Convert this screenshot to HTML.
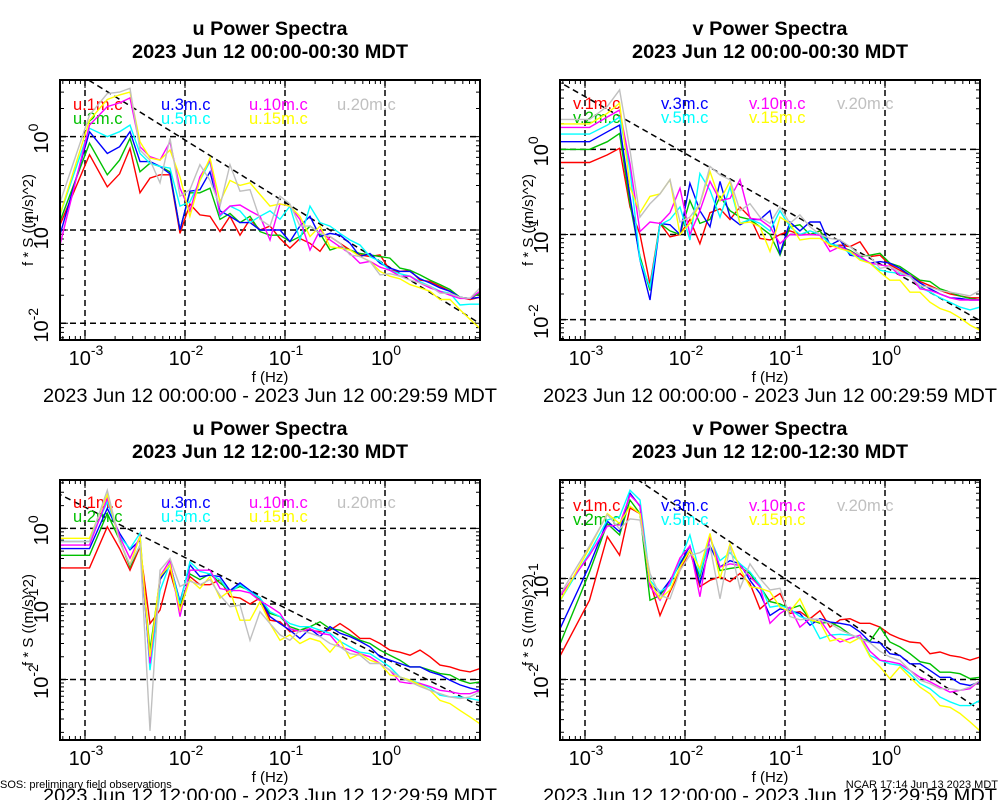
<!DOCTYPE html>
<html><head><meta charset="utf-8"><title>Power Spectra</title>
<style>
html,body{margin:0;padding:0;background:#fff;}
svg{display:block;font-family:"Liberation Sans",Arial,sans-serif;}
</style></head>
<body>
<svg id="chart" xmlns="http://www.w3.org/2000/svg" width="1000" height="800" viewBox="0 0 1000 800">
<rect x="0" y="0" width="1000" height="800" fill="#fff"/>
<text x="0" y="788" font-size="11">SOS: preliminary field observations</text>
<text x="998" y="788" font-size="11" text-anchor="end">NCAR 17:14 Jun 13 2023 MDT</text>
</svg>
<script>
// frequencies (Hz)
const freqHz = [5.56e-4,1.11e-3,1.67e-3,2.22e-3,2.82e-3,3.55e-3,4.47e-3,5.62e-3,7.08e-3,8.91e-3,0.0112,0.0141,0.0178,0.0224,0.0282,0.0355,0.0447,0.0562,0.0708,0.0891,0.112,0.141,0.178,0.224,0.282,0.355,0.447,0.562,0.708,0.891,1.12,1.41,1.78,2.24,2.82,3.55,4.47,5.62,7.08,8.91];
const seriesHeights = ["1m","2m","3m","5m","10m","15m","20m"];
const seriesColors = ["#ff0000","#00c000","#0000ff","#00ffff","#ff00ff","#ffff00","#c0c0c0"];
const xTickExps = [-3,-2,-1,0];

// top-left: u, 00:00-00:30
const tl_1m = [0.11,0.64,0.29,0.40,0.75,0.25,0.36,0.39,0.39,0.092,0.19,0.145,0.14,0.096,0.14,0.088,0.13,0.1,0.11,0.081,0.064,0.081,0.072,0.059,0.085,0.072,0.061,0.054,0.052,0.054,0.037,0.036,0.037,0.029,0.028,0.025,0.022,0.019,0.018,0.019];
const tl_2m = [0.12,0.85,0.39,0.56,0.96,0.42,0.52,0.48,0.42,0.1,0.25,0.25,0.28,0.13,0.15,0.12,0.14,0.096,0.088,0.088,0.075,0.085,0.11,0.092,0.061,0.066,0.061,0.056,0.054,0.052,0.05,0.039,0.037,0.033,0.029,0.026,0.023,0.019,0.0185,0.021];
const tl_3m = [0.085,1.13,0.66,0.78,1.13,0.54,0.54,0.48,0.40,0.1,0.26,0.27,0.42,0.16,0.14,0.12,0.12,0.1,0.1,0.1,0.075,0.11,0.14,0.085,0.092,0.088,0.072,0.052,0.056,0.044,0.039,0.036,0.036,0.030,0.027,0.024,0.022,0.019,0.0185,0.019];
const tl_5m = [0.14,1.23,1.0,1.13,1.33,0.66,0.52,0.48,0.46,0.18,0.2,0.34,0.54,0.14,0.18,0.16,0.12,0.14,0.16,0.13,0.18,0.078,0.18,0.12,0.11,0.092,0.078,0.069,0.052,0.046,0.037,0.034,0.032,0.028,0.025,0.022,0.021,0.0157,0.016,0.016];
const tl_10m = [0.066,1.33,2.1,2.3,2.6,0.78,0.61,0.56,0.88,0.28,0.16,0.37,0.56,0.145,0.18,0.185,0.16,0.14,0.078,0.19,0.18,0.13,0.061,0.1,0.078,0.066,0.056,0.044,0.046,0.04,0.037,0.032,0.032,0.027,0.024,0.022,0.02,0.0185,0.0185,0.022];
const tl_15m = [0.14,1.5,2.5,2.8,3.0,0.88,0.59,0.56,0.72,0.37,0.14,0.34,0.59,0.2,0.34,0.3,0.32,0.24,0.18,0.19,0.18,0.14,0.085,0.11,0.066,0.064,0.061,0.052,0.046,0.036,0.032,0.030,0.026,0.024,0.022,0.018,0.018,0.014,0.011,0.0088];
const tl_20m = [0.19,1.7,2.9,3.0,3.3,0.72,0.56,0.32,0.96,0.23,0.27,0.5,0.34,0.18,0.5,0.26,0.27,0.13,0.11,0.23,0.19,0.11,0.11,0.092,0.085,0.072,0.054,0.052,0.046,0.033,0.034,0.032,0.029,0.027,0.025,0.021,0.021,0.019,0.0185,0.024];

// top-right: v, 00:00-00:30
const tr_1m = [0.7,0.7,0.86,1.03,0.21,0.1,0.026,0.135,0.094,0.1,0.15,0.078,0.18,0.2,0.15,0.21,0.16,0.09,0.086,0.1,0.11,0.1,0.1,0.11,0.072,0.075,0.072,0.082,0.055,0.057,0.044,0.038,0.033,0.028,0.025,0.022,0.02,0.019,0.018,0.018];
const tr_2m = [1.0,1.0,1.23,1.54,0.23,0.055,0.022,0.135,0.11,0.1,0.25,0.135,0.15,0.28,0.19,0.16,0.15,0.123,0.1,0.057,0.123,0.13,0.1,0.11,0.078,0.072,0.065,0.055,0.057,0.06,0.046,0.042,0.035,0.029,0.028,0.023,0.021,0.019,0.0177,0.017];
const tr_3m = [1.23,1.23,1.61,1.93,0.28,0.05,0.017,0.135,0.13,0.1,0.4,0.19,0.123,0.42,0.16,0.13,0.15,0.15,0.19,0.06,0.14,0.11,0.14,0.14,0.075,0.086,0.057,0.055,0.046,0.048,0.046,0.04,0.033,0.027,0.023,0.02,0.018,0.0177,0.017,0.017];
const tr_5m = [1.51,1.51,1.93,2.4,0.57,0.05,0.024,0.13,0.15,0.21,0.086,0.52,0.33,0.16,0.36,0.135,0.15,0.135,0.11,0.19,0.123,0.1,0.11,0.1,0.078,0.072,0.06,0.052,0.046,0.038,0.036,0.035,0.032,0.024,0.021,0.018,0.016,0.014,0.013,0.014];
const tr_10m = [1.81,1.81,2.4,2.9,0.68,0.108,0.14,0.135,0.18,0.35,0.1,0.19,0.42,0.25,0.265,0.44,0.155,0.15,0.123,0.078,0.1,0.098,0.1,0.098,0.063,0.072,0.063,0.055,0.046,0.044,0.042,0.033,0.033,0.023,0.022,0.02,0.018,0.017,0.017,0.017];
const tr_15m = [1.99,1.99,2.65,3.5,0.36,0.18,0.28,0.3,0.44,0.1,0.135,0.23,0.55,0.25,0.42,0.135,0.14,0.123,0.063,0.16,0.135,0.086,0.09,0.09,0.075,0.068,0.063,0.05,0.046,0.036,0.029,0.029,0.021,0.021,0.016,0.0135,0.0123,0.0105,0.0086,0.0075];
const tr_20m = [2.25,2.25,3.2,5.0,0.98,0.16,0.23,0.3,0.44,0.14,0.16,0.23,0.63,0.5,0.44,0.19,0.23,0.16,0.135,0.21,0.135,0.17,0.123,0.1,0.09,0.086,0.072,0.057,0.055,0.04,0.042,0.036,0.032,0.025,0.024,0.022,0.021,0.02,0.019,0.022];

// bottom-left: u, 12:00-12:30
const bl_1m = [0.3,0.3,1.05,0.54,0.28,0.57,0.055,0.083,0.27,0.092,0.23,0.18,0.18,0.21,0.125,0.12,0.1,0.12,0.061,0.058,0.043,0.045,0.045,0.043,0.045,0.055,0.045,0.035,0.035,0.03,0.0245,0.023,0.021,0.0245,0.02,0.0155,0.0147,0.0133,0.0126,0.014];
const bl_2m = [0.44,0.44,1.58,0.7,0.31,0.6,0.0245,0.21,0.33,0.083,0.25,0.21,0.25,0.19,0.15,0.17,0.15,0.11,0.075,0.068,0.05,0.045,0.05,0.058,0.047,0.045,0.039,0.033,0.03,0.0245,0.021,0.018,0.0147,0.0147,0.0133,0.012,0.0115,0.0098,0.0089,0.0093];
const bl_3m = [0.54,0.54,1.84,0.86,0.52,0.7,0.0147,0.21,0.34,0.107,0.33,0.23,0.24,0.23,0.15,0.19,0.15,0.12,0.068,0.055,0.045,0.035,0.047,0.037,0.05,0.041,0.037,0.032,0.027,0.02,0.018,0.0163,0.0147,0.0147,0.0126,0.0115,0.0098,0.0085,0.0077,0.0072];
const bl_5m = [0.67,0.67,2.25,0.78,0.54,0.86,0.0133,0.15,0.34,0.1,0.36,0.27,0.25,0.21,0.14,0.18,0.145,0.12,0.079,0.068,0.055,0.05,0.05,0.045,0.041,0.032,0.027,0.023,0.022,0.018,0.0147,0.0108,0.0098,0.0089,0.0077,0.0062,0.0059,0.0059,0.0056,0.0053];
const bl_10m = [0.6,0.6,2.5,0.78,0.4,0.78,0.0163,0.23,0.38,0.068,0.28,0.28,0.28,0.16,0.15,0.15,0.14,0.11,0.092,0.075,0.047,0.043,0.047,0.041,0.039,0.027,0.0245,0.022,0.02,0.0163,0.0133,0.0093,0.0089,0.0089,0.0081,0.0072,0.0069,0.0065,0.0065,0.0072];
const bl_15m = [0.74,0.74,2.8,0.67,0.33,0.78,0.02,0.23,0.33,0.083,0.21,0.16,0.23,0.12,0.15,0.061,0.061,0.107,0.055,0.033,0.039,0.03,0.035,0.032,0.023,0.033,0.019,0.022,0.018,0.0163,0.0115,0.0108,0.0098,0.0085,0.0072,0.0053,0.0048,0.0039,0.0032,0.0026];
const bl_20m = [0.67,0.67,3.2,0.67,0.33,0.6,0.0021,0.28,0.4,0.17,0.2,0.18,0.21,0.13,0.092,0.097,0.033,0.079,0.055,0.039,0.033,0.045,0.041,0.037,0.03,0.027,0.022,0.021,0.0163,0.0163,0.0133,0.0108,0.0093,0.0081,0.0072,0.0065,0.0059,0.0056,0.0059,0.0069];

// bottom-right: v, 12:00-12:30
const br_1m = [0.0167,0.061,0.26,0.17,0.5,0.44,0.093,0.043,0.074,0.12,0.19,0.083,0.096,0.104,0.093,0.112,0.089,0.05,0.061,0.071,0.045,0.047,0.04,0.048,0.033,0.039,0.04,0.036,0.036,0.033,0.028,0.0254,0.0235,0.023,0.018,0.0187,0.0173,0.0167,0.0155,0.0167];
const br_2m = [0.0218,0.116,0.35,0.27,0.6,0.44,0.061,0.068,0.093,0.14,0.19,0.104,0.26,0.12,0.126,0.13,0.112,0.083,0.059,0.056,0.05,0.054,0.039,0.036,0.037,0.033,0.028,0.0254,0.024,0.033,0.0235,0.021,0.018,0.015,0.0143,0.0118,0.0118,0.0114,0.0102,0.0105];
const br_3m = [0.031,0.135,0.37,0.29,0.7,0.52,0.089,0.071,0.096,0.14,0.21,0.089,0.21,0.13,0.15,0.14,0.096,0.071,0.043,0.05,0.048,0.045,0.0345,0.04,0.037,0.036,0.0345,0.0295,0.0235,0.023,0.018,0.0173,0.0143,0.0143,0.0123,0.0105,0.0105,0.0091,0.0087,0.0095];
const br_5m = [0.059,0.18,0.38,0.41,0.75,0.6,0.096,0.074,0.086,0.15,0.27,0.112,0.25,0.15,0.18,0.14,0.116,0.086,0.052,0.054,0.05,0.042,0.039,0.0254,0.0275,0.028,0.0275,0.026,0.0173,0.0155,0.0143,0.0138,0.0114,0.0091,0.0081,0.0067,0.006,0.0055,0.0055,0.0062];
const br_10m = [0.066,0.17,0.33,0.34,0.67,0.53,0.083,0.061,0.093,0.16,0.21,0.066,0.26,0.13,0.14,0.135,0.104,0.083,0.036,0.045,0.052,0.033,0.04,0.039,0.028,0.0235,0.0254,0.0275,0.019,0.0155,0.015,0.0143,0.0123,0.0105,0.0095,0.0084,0.0075,0.0078,0.0081,0.0098];
const br_15m = [0.059,0.2,0.44,0.35,0.52,0.44,0.093,0.063,0.077,0.13,0.19,0.126,0.28,0.1,0.22,0.126,0.083,0.08,0.074,0.052,0.047,0.063,0.039,0.037,0.024,0.0254,0.023,0.026,0.0167,0.0133,0.0102,0.0133,0.0105,0.0084,0.0072,0.0055,0.0053,0.0046,0.0038,0.0031];
const br_20m = [0.068,0.21,0.43,0.31,0.39,0.38,0.112,0.068,0.063,0.12,0.17,0.18,0.21,0.063,0.21,0.08,0.14,0.1,0.077,0.08,0.042,0.039,0.04,0.039,0.036,0.031,0.028,0.0254,0.023,0.019,0.0167,0.0155,0.0123,0.0098,0.0091,0.0081,0.0081,0.0078,0.0084,0.0098];

// reference line f*S = refCoef * f^(-2/3)
const refCoef = [0.0427,0.0417,0.0191,0.0214];
const yTickExpsTL = [0,-1,-2];
const yTickExpsTR = [0,-1,-2];
const yTickExpsBL = [0,-1,-2];
const yTickExpsBR = [-1,-2];

const NS = "http://www.w3.org/2000/svg";
const svg = document.getElementById("chart");
function mk(tag, attrs, parent) {
  const e = document.createElementNS(NS, tag);
  for (const k in attrs) e.setAttribute(k, attrs[k]);
  (parent || svg).appendChild(e);
  return e;
}

const panels = [
  {id:"tl", comp:"u", x0:60, y0:80, logTop:0.607, logBot:-2.179, title2:"2023 Jun 12 00:00-00:30 MDT", date:"2023 Jun 12 00:00:00 - 2023 Jun 12 00:29:59 MDT", data:[tl_1m,tl_2m,tl_3m,tl_5m,tl_10m,tl_15m,tl_20m], yt:yTickExpsTL, ref:refCoef[0], legY:110},
  {id:"tr", comp:"v", x0:560, y0:80, logTop:0.815, logBot:-2.24, title2:"2023 Jun 12 00:00-00:30 MDT", date:"2023 Jun 12 00:00:00 - 2023 Jun 12 00:29:59 MDT", data:[tr_1m,tr_2m,tr_3m,tr_5m,tr_10m,tr_15m,tr_20m], yt:yTickExpsTR, ref:refCoef[1], legY:109},
  {id:"bl", comp:"u", x0:60, y0:480, logTop:0.64, logBot:-2.80, title2:"2023 Jun 12 12:00-12:30 MDT", date:"2023 Jun 12 12:00:00 - 2023 Jun 12 12:29:59 MDT", data:[bl_1m,bl_2m,bl_3m,bl_5m,bl_10m,bl_15m,bl_20m], yt:yTickExpsBL, ref:refCoef[2], legY:508},
  {id:"br", comp:"v", x0:560, y0:480, logTop:-0.024, logBot:-2.6, title2:"2023 Jun 12 12:00-12:30 MDT", date:"2023 Jun 12 12:00:00 - 2023 Jun 12 12:29:59 MDT", data:[br_1m,br_2m,br_3m,br_5m,br_10m,br_15m,br_20m], yt:yTickExpsBR, ref:refCoef[3], legY:511}
];
const W = 420, H = 260, LX0 = -3.25, LX1 = 0.95;

panels.forEach(p => {
  const xs = f => p.x0 + (Math.log10(f) - LX0) / (LX1 - LX0) * W;
  const ys = v => p.y0 + (p.logTop - Math.log10(v)) / (p.logTop - p.logBot) * H;
  const cx = p.x0 + W / 2;
  const g = mk("g", {});
  
  

  const t1 = mk("text", {x:cx, y:p.y0-45, "font-size":19, "font-weight":"bold", "text-anchor":"middle", textLength:155, lengthAdjust:"spacingAndGlyphs"}, g);
  t1.textContent = p.comp + " Power Spectra";
  
  
  const t2 = mk("text", {x:cx, y:p.y0-22, "font-size":19, "font-weight":"bold", "text-anchor":"middle", textLength:276, lengthAdjust:"spacingAndGlyphs"}, g);
  t2.textContent = p.title2;
  
  

  const clipId = "clip-" + p.id;
  const cp = mk("clipPath", {id:clipId}, g);
  mk("rect", {x:p.x0, y:p.y0, width:W, height:H}, cp);

  xTickExps.forEach(e => {
    const x = xs(Math.pow(10, e));
    const gl = mk("line", {x1:x, x2:x, y1:p.y0, y2:p.y0+H, stroke:"#000", "stroke-width":1.5, "stroke-dasharray":"6,4"}, g);
    
    
    const lab = mk("text", {x:x+1, y:p.y0+H+25, "font-size":20, "text-anchor":"middle"}, g);
    lab.innerHTML = '10<tspan font-size="14" dy="-10">' + e + '</tspan>';
    
    
  });
  p.yt.forEach(e => {
    const y = ys(Math.pow(10, e));
    const gl = mk("line", {x1:p.x0, x2:p.x0+W, y1:y, y2:y, stroke:"#000", "stroke-width":1.5, "stroke-dasharray":"6,4"}, g);
    
    
    const lab = mk("text", {x:0, y:0, "font-size":20, "text-anchor":"middle", transform:"translate(" + (p.x0-12) + "," + (y+2) + ") rotate(-90)"}, g);
    lab.innerHTML = '10<tspan font-size="14" dy="-10">' + e + '</tspan>';
    
    
  });

  let tk = "";
  for (let d = -4; d <= 1; d++) for (let m = 1; m <= 9; m++) {
    const f = m * Math.pow(10, d);
    const lx = Math.log10(f);
    if (lx > LX0 && lx < LX1) { const x = xs(f); const L = m === 1 ? 8 : 4;
      tk += "M" + x + " " + (p.y0+H) + "v-" + L + "M" + x + " " + p.y0 + "v" + L; }
    if (lx < p.logTop && lx > p.logBot) { const y = ys(f); const L = m === 1 ? 8 : 4;
      tk += "M" + p.x0 + " " + y + "h" + L + "M" + (p.x0+W) + " " + y + "h-" + L; }
  }
  const tkp = mk("path", {d:tk, stroke:"#000", "stroke-width":1, fill:"none"}, g);
  
  

  const fa = freqHz[0] / 2, fb = freqHz[freqHz.length - 1] * 2;
  const rl = mk("line", {x1:xs(fa), y1:ys(p.ref*Math.pow(fa,-2/3)), x2:xs(fb), y2:ys(p.ref*Math.pow(fb,-2/3)), stroke:"#000", "stroke-width":1.5, "stroke-dasharray":"6,4", "clip-path":"url(#"+clipId+")"}, g);
  
  

  const legX = [p.x0+13, p.x0+101, p.x0+189, p.x0+277];
  seriesHeights.forEach((h, i) => {
    const col = i === 6 ? 3 : Math.floor(i / 2);
    const row = i === 6 ? 0 : i % 2;
    const lt = mk("text", {x:legX[col], y:p.legY + row*14, "font-size":16.5, fill:seriesColors[i]}, g);
    lt.textContent = p.comp + "." + h + ".c";
    
    
  });

  p.data.forEach((arr, i) => {
    const pts = arr.map((v, k) => xs(freqHz[k]).toFixed(1) + "," + ys(v).toFixed(1)).join(" ");
    const pl = mk("polyline", {points:pts, fill:"none", stroke:seriesColors[i], "stroke-width":1.4, "stroke-linejoin":"miter", "clip-path":"url(#"+clipId+")"}, g);
    
    
  });

  const box = mk("rect", {x:p.x0, y:p.y0, width:W, height:H, fill:"none", stroke:"#000", "stroke-width":2}, g);
  
  

  const xl = mk("text", {x:cx, y:p.y0+H+42, "font-size":15, "text-anchor":"middle"}, g);
  xl.textContent = "f (Hz)";
  
  
  const yl = mk("text", {x:0, y:0, "font-size":15, "text-anchor":"middle", transform:"translate(" + (p.x0-27) + "," + (p.y0+H/2+10) + ") rotate(-90)"}, g);
  yl.textContent = "f * S ((m/s)^2)";
  
  
  const dl = mk("text", {x:cx, y:p.y0+H+62, "font-size":19, "text-anchor":"middle", textLength:454, lengthAdjust:"spacingAndGlyphs"}, g);
  dl.textContent = p.date;
  
  
});
</script>
</body></html>
